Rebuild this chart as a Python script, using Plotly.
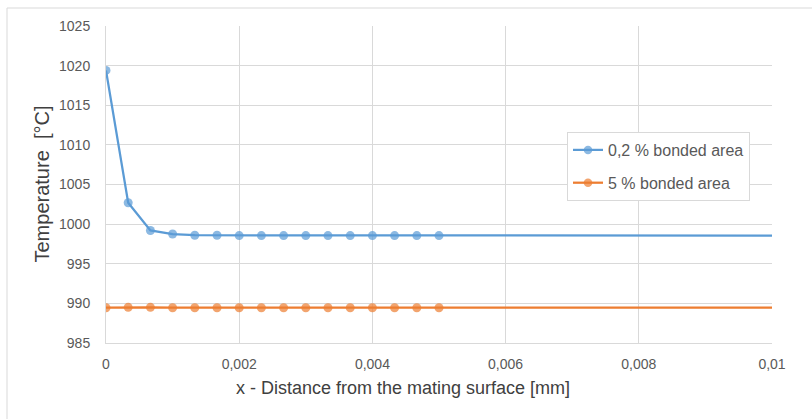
import plotly.graph_objects as go

# Data
x_pos = [0, 0.000333, 0.000667, 0.001, 0.001333, 0.001667, 0.002, 0.002333,
         0.002667, 0.003, 0.003333, 0.003667, 0.004, 0.004333, 0.004667, 0.005, 0.01]
temp_02 = [1019.4, 1002.7, 999.2, 998.75, 998.6, 998.6, 998.55, 998.55,
           998.55, 998.55, 998.55, 998.55, 998.55, 998.55, 998.55, 998.55, 998.55]
temp_5 = [989.45, 989.5, 989.5, 989.45, 989.45, 989.45, 989.45, 989.45,
          989.45, 989.45, 989.45, 989.45, 989.45, 989.45, 989.45, 989.45, 989.45]
marker_on = [1] * 16 + [0]
series_names = ["0,2 % bonded area", "5 % bonded area"]

x_tickvals = [0, 0.002, 0.004, 0.006, 0.008, 0.01]
x_ticktext = ["0", "0,002", "0,004", "0,006", "0,008", "0,01"]
y_tickvals = [985, 990, 995, 1000, 1005, 1010, 1015, 1020, 1025]
y_ticktext = [str(v) for v in y_tickvals]
x_title = "x - Distance from the mating surface [mm]"
y_title = "Temperature  [°C]"

BLUE = "#5B9BD5"
ORANGE = "#ED7D31"
FONT = "Liberation Sans"

fig = go.Figure()
for i, (name, vals, col) in enumerate([(series_names[0], temp_02, BLUE),
                                       (series_names[1], temp_5, ORANGE)]):
    fig.add_trace(go.Scatter(
        x=x_pos, y=vals, name=name, mode="lines+markers", legendgroup=f"g{i}",
        line=dict(color=col, width=2.25),
        marker=dict(color=col, size=[9 * m for m in marker_on], line=dict(width=0)),
    ))

W, H = 812, 419
ml, mr, mt, mb = 106, 40, 26, 76
pw, ph = W - ml - mr, H - mt - mb

def px2x(p):
    return (p - ml) / pw

def py2y(p):
    return (H - mb - p) / ph

fig.add_shape(type="rect", xref="paper", yref="paper",
              x0=px2x(7), x1=px2x(830), y0=py2y(440), y1=py2y(8),
              line=dict(color="#D9D9D9", width=1), fillcolor="rgba(0,0,0,0)", layer="below")

fig.add_annotation(text=x_title, xref="paper", yref="paper",
                   x=px2x(403), y=py2y(388), xanchor="center", yanchor="middle",
                   showarrow=False, font=dict(size=18, color="#404040", family=FONT))
fig.add_annotation(text=y_title, xref="paper", yref="paper", textangle=-90,
                   x=px2x(41), y=py2y(184.5), xanchor="center", yanchor="middle",
                   showarrow=False, font=dict(size=20, color="#404040", family=FONT))

fig.update_layout(
    width=W, height=H,
    margin=dict(l=ml, r=mr, t=mt, b=mb),
    paper_bgcolor="white", plot_bgcolor="white",
    font=dict(family=FONT, color="#595959", size=14),
    showlegend=True,
    legend=dict(x=px2x(567), y=py2y(132), xanchor="left", yanchor="top",
                bordercolor="#D9D9D9", borderwidth=1, bgcolor="white",
                font=dict(size=16, color="#595959", family=FONT),
                traceorder="grouped", tracegroupgap=9, itemwidth=30),
    xaxis=dict(range=[0, 0.01], tickvals=x_tickvals, ticktext=x_ticktext,
               showgrid=True, gridcolor="#D9D9D9", gridwidth=1,
               zeroline=False, showline=True, linecolor="#D9D9D9",
               ticks="", tickfont=dict(size=14, color="#595959"),
               ticklabelstandoff=8),
    yaxis=dict(range=[985, 1025], tickvals=y_tickvals, ticktext=y_ticktext,
               showgrid=True, gridcolor="#D9D9D9", gridwidth=1,
               zeroline=False, showline=True, linecolor="#D9D9D9",
               ticks="", tickfont=dict(size=14, color="#595959"),
               ticklabelstandoff=12),
)

fig.write_html("out.html")
